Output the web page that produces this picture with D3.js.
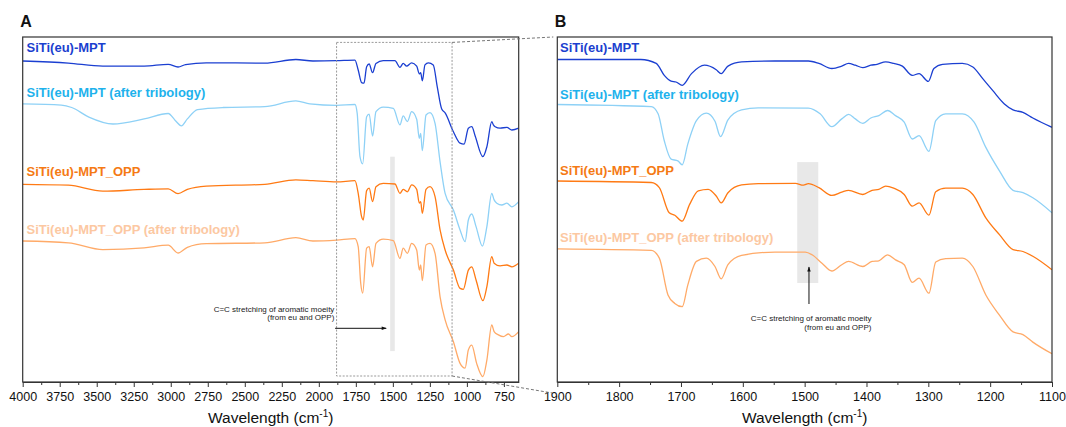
<!DOCTYPE html>
<html>
<head>
<meta charset="utf-8">
<script src="https://d3js.org/d3.v7.min.js"></script>
<style>
  body { margin: 0; background: #fff; }
  text { font-family: "Liberation Sans", Arial, sans-serif; }
</style>
</head>
<body>
<div id="chart"></div>
<script>

// series names and colours (line, label)
var seriesNames = ["SiTi(eu)-MPT", "SiTi(eu)-MPT (after tribology)", "SiTi(eu)-MPT_OPP", "SiTi(eu)-MPT_OPP (after tribology)"];
var lineColors = ["#1b3fd1", "#8ed1f6", "#ff7a14", "#ffaa68"];
var labelColors = ["#1b3fcf", "#1eb2ec", "#f57a14", "#fcc8a2"];

// tick values
var ticksA = [4000, 3750, 3500, 3250, 3000, 2750, 2500, 2250, 2000, 1750, 1500, 1250, 1000, 750];
var ticksB = [1900, 1800, 1700, 1600, 1500, 1400, 1300, 1200, 1100];

// panel A, full spectra: [wavenumber, offset transmittance (a.u.)]
var mptA = [[4000,107],[3692,106.3],[3459,105.3],[3180,105.3],[3017,105.9],[2951,105],[2900,105.8],[2760,106.4],[2365,106.3],[2155,107.5],[2040,107],[1880,107.1],[1756,107.3],
  [1734,104],[1711,99.8],[1695,99.6],[1677,105.1],[1660,106],[1637,103.1],[1614,106.2],[1565,107.1],[1486,107.1],[1452,104.9],[1430,106.2],[1407,105.3],[1373,106.4],[1339,105.3],
  [1321,102.7],[1312,103.1],[1301,100.4],[1283,105.7],[1260,106.4],[1227,105.7],[1200,98.4],[1170,91],[1147,89.7],[1091,83.4],[1046,79.6],[1019,79.3],[990,84.6],[967,85.1],
  [944,82],[892,75.1],[865,78.4],[832,86.8],[821,85.7],[809,85.1],[776,84.6],[730,84.9],[696,84],[650,84.6]];
var mptTriboA = [[4000,92.7],[3739,92.3],[3669,91.5],[3553,88.3],[3390,86],[3180,87.7],[3017,89.5],[2970,87.2],[2928,85.4],[2888,87.7],[2819,90.8],[2644,91.5],[2365,91.8],[2155,93.7],
  [2061,92.7],[1880,92.2],[1756,92.5],[1741,89.6],[1722,75.1],[1704,72.7],[1677,88.4],[1660,89.3],[1637,82],[1614,90.1],[1565,91.6],[1497,91.2],[1452,85.7],[1430,88.7],[1402,86.8],
  [1373,90.1],[1339,87.6],[1321,81.2],[1312,82.9],[1301,77.1],[1276,89],[1249,89.8],[1215,86.2],[1181,73.4],[1147,62.9],[1091,57.3],[1046,50.7],[1012,46.8],[990,54],[967,56],
  [938,51.8],[895,45.3],[865,51.8],[832,62.9],[816,60.7],[798,59.6],[764,59],[730,59.6],[696,58.4],[650,60.1]];
var oppA = [[4000,65.9],[3692,65.6],[3459,63.6],[3180,64.2],[3017,64.4],[2951,62.8],[2888,64.2],[2760,65.3],[2365,65.9],[2155,67.4],[2040,67.1],[1880,66.7],[1756,67.1],[1734,62.9],
  [1711,55.1],[1700,54],[1677,63.8],[1660,64.6],[1637,60.1],[1614,65.1],[1565,66.2],[1486,66],[1452,62.9],[1430,64.2],[1402,63.4],[1373,65.7],[1339,64.2],[1321,59.6],[1312,60.1],
  [1301,56.2],[1276,64.2],[1249,65.1],[1215,61.8],[1181,50.7],[1147,44],[1091,37.3],[1046,31.2],[1024,30.9],[990,37.3],[967,38.4],[938,34],[892,27.1],[865,31.8],[832,41.8],
  [816,39.6],[776,38.7],[730,39],[696,38.4],[650,39.6]];
var oppTriboA = [[4000,47],[3692,46.4],[3459,44.1],[3180,44.7],[3017,45.6],[2951,43],[2888,44.9],[2760,46.1],[2365,46.4],[2155,48.1],[2040,47],[1880,47.3],[1756,47.8],[1734,45.1],
  [1717,32.9],[1704,29.6],[1677,44.6],[1660,45.1],[1637,38.4],[1614,46.2],[1565,47.6],[1497,47.1],[1452,41.2],[1430,44.6],[1402,42.9],[1373,46.2],[1339,44],[1321,37.3],[1312,39],
  [1301,33.8],[1276,45.7],[1249,46.2],[1215,42.9],[1181,28.4],[1147,20.7],[1091,13.4],[1046,6.2],[1012,4.6],[990,10.7],[967,12.3],[934,6.2],[892,1.8],[865,7.3],[832,19],
  [816,16.8],[787,15.7],[753,15.1],[719,16],[696,15.1],[650,16.8]];

// panel B, 1900-1100 cm-1 detail
var mptB = [[1900,107.5],[1765,107.5],[1740,106.2],[1727,102.2],[1716,100.3],[1708,100],[1698,98.9],[1683,102.8],[1662,105.6],[1643,104.1],[1635,102.8],[1624,105.3],[1602,106.7],
  [1548,107],[1494,107],[1477,106.2],[1456,104.5],[1440,105.3],[1429,106.2],[1418,105.6],[1406,104.8],[1393,105.6],[1383,105.9],[1369,106.7],[1356,106.2],[1342,105.3],[1326,102.2],
  [1315,102.8],[1300,100.2],[1291,104.5],[1277,105.9],[1245,106.2],[1228,105],[1212,101.1],[1196,97.2],[1177,92.7],[1163,90.7],[1147,89.9],[1131,88],[1100,84.9]];
var mptTriboB = [[1900,92.5],[1748,91.8],[1737,89.4],[1727,80.4],[1716,74.3],[1705,73.7],[1698,72.4],[1689,79.3],[1675,87.1],[1659,89.6],[1645,86.9],[1636,81.8],[1624,87.4],
  [1602,90.7],[1575,91.4],[1494,91.3],[1475,89.4],[1456,85.1],[1440,87.7],[1429,89.2],[1418,87.7],[1406,86.2],[1393,88],[1380,88.8],[1366,90.5],[1353,88.8],[1339,86.6],[1326,81],
  [1315,82.1],[1299,76.9],[1288,87.1],[1272,89.4],[1245,89.4],[1226,86.6],[1207,78.2],[1185,70.4],[1163,63.9],[1147,63.1],[1131,61.4],[1100,56.4]];
var oppB = [[1900,67],[1748,66.5],[1735,64.8],[1719,56.4],[1710,55.6],[1698,53.6],[1686,59.2],[1672,63.7],[1656,64.2],[1643,62],[1635,59.7],[1624,63.1],[1602,65.7],[1575,66.1],
  [1515,66.2],[1502,65.6],[1494,66.1],[1477,64.8],[1456,62.2],[1440,63.3],[1429,63.9],[1406,62.5],[1391,63.9],[1380,64.2],[1369,65.3],[1356,64.6],[1339,62.5],[1326,58.6],
  [1315,59.7],[1299,55.6],[1288,63.4],[1272,64.6],[1245,64.6],[1228,62.5],[1207,54.7],[1185,49.1],[1163,44.1],[1147,43.5],[1131,41.9],[1100,37.4]];
var oppTriboB = [[1900,44.4],[1748,43.9],[1735,41.3],[1721,29],[1710,26.2],[1698,25.1],[1689,32.3],[1675,40.2],[1659,41.3],[1645,38.5],[1635,34.4],[1624,39.1],[1602,42.2],
  [1548,43.3],[1499,43.3],[1488,42.4],[1472,39.6],[1456,37],[1440,39.1],[1429,40.2],[1406,38.5],[1391,40.2],[1380,40.4],[1366,42.4],[1353,40.7],[1339,39.1],[1326,33.2],
  [1315,34.6],[1299,29.6],[1288,40],[1272,41.1],[1245,41.3],[1228,38.5],[1207,29],[1185,22.3],[1163,16.7],[1147,15.8],[1131,13.3],[1100,9.4]];

// zoom box, aromatic band and annotations (wavenumber / a.u.)
var zoomBox = [1880, 1100, 2, 113.2];
var bandA = [1518, 1487, 10.3, 75.1];
var bandB = [1512, 1478, 33, 73.3];

var W = 1066, H = 427;
var plotTop = 37, plotBottom = 382;

var svg = d3.select("#chart").append("svg")
    .attr("width", W).attr("height", H)
    .style("background", "#fff");

var y = d3.scaleLinear().domain([0, 115]).range([plotBottom, plotTop]);
var xA = d3.scaleLinear().domain([4000, 650]).range([22.7, 518.7]);
var xB = d3.scaleLinear().domain([1900, 1100]).range([557.3, 1052]);

var defs = svg.append("defs");
defs.append("marker").attr("id", "arr")
    .attr("viewBox", "0 0 10 10").attr("refX", 9).attr("refY", 5)
    .attr("markerWidth", 7).attr("markerHeight", 5).attr("orient", "auto")
    .attr("markerUnits", "userSpaceOnUse")
    .append("path").attr("d", "M0,1.5L10,5L0,8.5z").attr("fill", "#111");

function drawPanel(x, id, letter, series, ticks, minorStep, labelY, labelX, band) {
    var g = svg.append("g");
    var r = x.range();
    defs.append("clipPath").attr("id", "clip" + id)
        .append("rect").attr("x", r[0]).attr("y", plotTop).attr("width", r[1] - r[0]).attr("height", plotBottom - plotTop);

    // grey band
    g.append("rect")
        .attr("x", x(band[0])).attr("width", x(band[1]) - x(band[0]))
        .attr("y", y(band[3])).attr("height", y(band[2]) - y(band[3]))
        .attr("fill", "#e8e8e8");

    var line = d3.line()
        .x(function (d) { return x(d[0]) })
        .y(function (d) { return y(d[1]) })
        .curve(d3.curveMonotoneX);

    var lg = g.append("g").attr("clip-path", "url(#clip" + id + ")");
    series.forEach(function (s, i) {
        lg.append("path").datum(s)
            .attr("d", line)
            .attr("fill", "none")
            .attr("stroke", lineColors[i])
            .attr("stroke-width", 1.3)
            .attr("stroke-linejoin", "round");
        g.append("text")
            .attr("x", labelX).attr("y", labelY[i])
            .attr("fill", labelColors[i])
            .attr("font-size", 13).attr("font-weight", "bold")
            .text(seriesNames[i]);
    });

    // frame
    g.append("rect")
        .attr("x", r[0]).attr("y", plotTop)
        .attr("width", r[1] - r[0]).attr("height", plotBottom - plotTop)
        .attr("fill", "none").attr("stroke", "#333").attr("stroke-width", 1.2);

    // minor ticks
    var d = x.domain();
    var minor = d3.range(d[0], d[1] - 1, -minorStep).filter(function (v) { return ticks.indexOf(v) < 0 });
    g.append("g").attr("transform", "translate(0," + plotBottom + ")")
        .call(d3.axisBottom(x).tickValues(minor).tickSize(3).tickFormat("").tickSizeOuter(0))
        .call(function (a) { a.select(".domain").remove(); a.selectAll("line").attr("stroke", "#333"); });

    var ax = g.append("g").attr("transform", "translate(0," + plotBottom + ")")
        .call(d3.axisBottom(x).tickValues(ticks).tickSize(5).tickPadding(5).tickSizeOuter(0).tickFormat(d3.format("d")));
    ax.select(".domain").attr("stroke", "#333").attr("stroke-width", 1.2);
    ax.selectAll("line").attr("stroke", "#333");
    ax.selectAll("text").attr("font-size", 12.5).attr("fill", "#111")
        .attr("font-family", "Liberation Sans, Arial, sans-serif");

    var t = g.append("text")
        .attr("x", (r[0] + r[1]) / 2).attr("y", 423)
        .attr("text-anchor", "middle").attr("font-size", 15.5).attr("fill", "#111");
    t.append("tspan").text("Wavelength (cm");
    t.append("tspan").attr("font-size", 10).attr("dy", -6).text("-1");
    t.append("tspan").attr("dy", 6).text(")");

    svg.append("text").attr("x", r[0] - 2.5).attr("y", 27)
        .attr("font-size", 16).attr("font-weight", "bold").attr("fill", "#111")
        .text(letter);
    return g;
}

var gA = drawPanel(xA, "A", "A", [mptA, mptTriboA, oppA, oppTriboA], ticksA, 125, [51.7, 96.7, 175.6, 234], 26.5, bandA);
var gB = drawPanel(xB, "B", "B", [mptB, mptTriboB, oppB, oppTriboB], ticksB, 50, [52, 99, 175, 242], 560, bandB);

// zoom box in panel A
gA.append("rect")
    .attr("x", xA(zoomBox[0])).attr("width", xA(zoomBox[1]) - xA(zoomBox[0]))
    .attr("y", y(zoomBox[3])).attr("height", y(zoomBox[2]) - y(zoomBox[3]))
    .attr("fill", "none").attr("stroke", "#9a9a9a").attr("stroke-width", 1)
    .attr("stroke-dasharray", "2,1.5");

// connectors from the box to panel B
svg.append("line")
    .attr("x1", xA(zoomBox[1])).attr("y1", y(zoomBox[3]))
    .attr("x2", xB(1900) - 4).attr("y2", plotTop)
    .attr("stroke", "#777").attr("stroke-width", 1).attr("stroke-dasharray", "3,2");
svg.append("line")
    .attr("x1", xA(zoomBox[1])).attr("y1", y(zoomBox[2]))
    .attr("x2", xB(1900) - 5).attr("y2", 393)
    .attr("stroke", "#777").attr("stroke-width", 1).attr("stroke-dasharray", "3,2");

// annotation A
var noteA = gA.append("text").attr("text-anchor", "end").attr("font-size", 8).attr("fill", "#222");
noteA.append("tspan").attr("x", xA(1895)).attr("y", y(23.5)).text("C=C stretching of aromatic moeity");
noteA.append("tspan").attr("x", xA(1895)).attr("y", y(20.7)).text("(from eu and OPP)");
gA.append("line")
    .attr("x1", xA(1890)).attr("y1", y(17.9))
    .attr("x2", xA(1545)).attr("y2", y(17.9))
    .attr("stroke", "#111").attr("stroke-width", 1)
    .attr("marker-end", "url(#arr)");

// annotation B
var noteB = gB.append("text").attr("text-anchor", "end").attr("font-size", 8).attr("fill", "#222");
noteB.append("tspan").attr("x", xB(1392)).attr("y", y(20.2)).text("C=C stretching of aromatic moeity");
noteB.append("tspan").attr("x", xB(1392)).attr("y", y(17.5)).text("(from eu and OPP)");
gB.append("line")
    .attr("x1", xB(1493)).attr("y1", y(26))
    .attr("x2", xB(1493)).attr("y2", y(38.3))
    .attr("stroke", "#111").attr("stroke-width", 1)
    .attr("marker-end", "url(#arr)");

</script>
</body>
</html>
